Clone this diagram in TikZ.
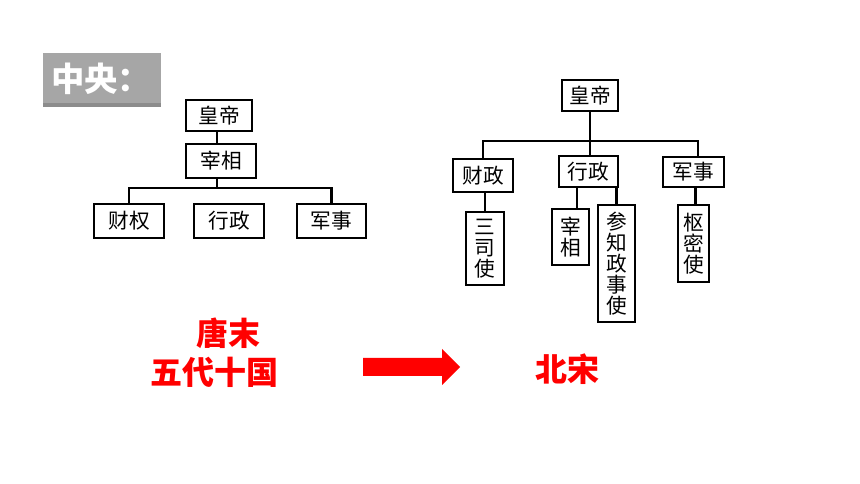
\documentclass[tikz,border=0pt]{standalone}
\usepackage{fontspec}
\newfontfamily\cjk{Noto Sans CJK SC}
\tikzset{
  box/.style={draw=black, line width=2.2pt, inner sep=0pt, font=\cjk\fontsize{15.5}{15.8}\selectfont, align=center},
  link/.style={draw=black, line width=1.9pt},
  red title/.style={text=red, font=\cjk\bfseries\fontsize{24}{30}\selectfont, align=center, inner sep=0pt}
}
\begin{document}
\begin{tikzpicture}[x=0.75pt, y=-0.75pt]
\useasboundingbox[fill=white] (0,0) rectangle (860,484);
% gray title
\fill[fill={rgb,255:red,166;green,166;blue,166}] (43,53) rectangle (161,107);
\fill[fill={rgb,255:red,140;green,140;blue,140}] (43,103) rectangle (161,107);
\node[anchor=west, text=white, font=\cjk\bfseries\fontsize{25}{30}\selectfont, inner sep=0pt] (zy) at (51,79) {中央：};
% left tree
\node[box, minimum width=66*0.75pt, minimum height=31*0.75pt] (lhd) at (219,115.5) {皇帝};
\node[box, minimum width=70*0.75pt, minimum height=34*0.75pt] (lzx) at (221,161) {宰相};
\node[box, minimum width=70*0.75pt, minimum height=34*0.75pt] (lcq) at (129,221) {财权};
\node[box, minimum width=70*0.75pt, minimum height=34*0.75pt] (lxz) at (229,221) {行政};
\node[box, minimum width=69*0.75pt, minimum height=34*0.75pt] (ljs) at (331.5,221) {军事};
\coordinate (lbar) at (217,188);
\draw[link] (lhd.south -| lbar) -- (lzx.north -| lbar);
\draw[link] (lzx.south -| lbar) -- (lbar);
\draw[link] (lcq.north) -- (lcq.north |- lbar) -- (ljs.north |- lbar) -- (ljs.north);
% right tree
\node[box, minimum width=56*0.75pt, minimum height=31*0.75pt] (rhd) at (590,95.5) {皇帝};
\node[box, minimum width=60*0.75pt, minimum height=33*0.75pt] (rcz) at (483,175.5) {财政};
\node[box, minimum width=59*0.75pt, minimum height=31*0.75pt] (rxz) at (588.5,171.5) {行政};
\node[box, minimum width=61*0.75pt, minimum height=30*0.75pt] (rjs) at (693.5,172) {军事};
\node[box, minimum width=38*0.75pt, minimum height=73*0.75pt] (rss) at (485,248.5) {三\\司\\使};
\node[box, minimum width=37*0.75pt, minimum height=56*0.75pt] (rzx) at (570.5,237) {宰\\相};
\node[box, minimum width=37*0.75pt, minimum height=117*0.75pt] (rcs) at (616.5,263.5) {参\\知\\政\\事\\使};
\node[box, minimum width=31*0.75pt, minimum height=77*0.75pt] (rsm) at (693.5,243.5) {枢\\密\\使};
\coordinate (rbarL) at (483,141);
\coordinate (rbarR) at (698,141);
\draw[link] (rhd.south) -- (rhd.south |- rxz.north);
\draw[link] (rcz.north) -- (rbarL) -- (rbarR) -- (rbarR |- rjs.north);
\draw[link] (rss.north) -- (rss.north |- rcz.south);
\draw[link] ([xshift=4.9pt]rzx.north) -- ([xshift=4.9pt]rzx.north |- rxz.south);
\draw[link] (rcs.north) -- (rcs.north |- rxz.south);
\draw[link] ([xshift=1.5pt]rsm.north) -- ([xshift=1.5pt]rsm.north |- rjs.south);
% bottom labels
\node[red title] (tm) at (228,333) {唐末};
\node[red title] (wd) at (214,372) {五代十国};
\node[red title] (bs) at (567,369) {北宋};
% block arrow
\fill[red] (363,358) -- (442,358) -- (442,349) -- (460,367) -- (442,385) -- (442,376) -- (363,376) -- cycle;
\end{tikzpicture}
\end{document}
